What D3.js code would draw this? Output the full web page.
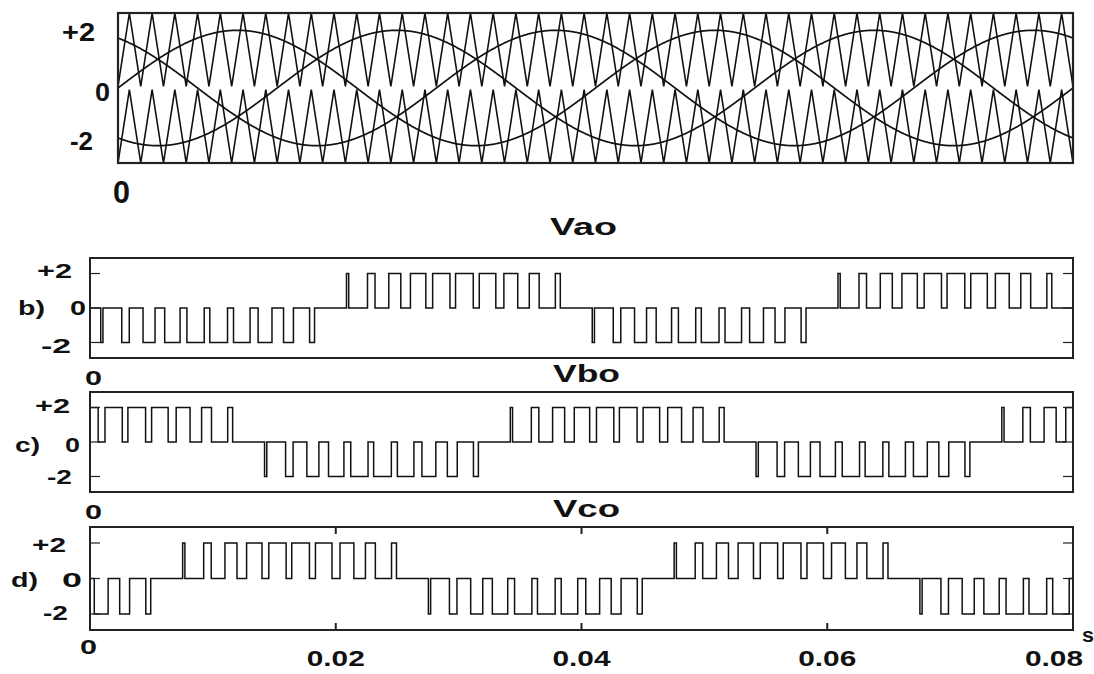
<!DOCTYPE html>
<html><head><meta charset="utf-8">
<script src="https://cdn.jsdelivr.net/npm/d3@7"></script>
<style>
body{margin:0;background:#fff}
svg{display:block}
text{font-family:"Liberation Sans",Arial,sans-serif;font-weight:bold;fill:#111}
</style>
</head><body>
<svg id="chart" width="1094" height="674"></svg>
<script>
// ---------------- data ----------------
const timeSpan = [0, 0.08];                 // seconds
const fundamentalHz = [25];                 // reference frequency
const carrierRatio = [21];                  // carrier / fundamental
const refAmplitude = [2];                   // peak of the sine references
const carrierBands = [[0.06, 2.6], [-2.6, -0.06]]; // level-shifted carriers (in phase)
const topPhasesDeg = [0, 120, -120];        // three references in the top plot
const outputNames = ["Vao", "Vbo", "Vco"];
const outputTags = ["b)", "c)", "d)"];
const outputPhasesDeg = [180, 60, -60];     // reference phase of each output
const outputLevels = [-2, 0, 2];
const yTickValues = [2, 0, -2];
const yTickLabels = ["+2", "0", "-2"];
const xTickValues = [0, 0.02, 0.04, 0.06, 0.08];
const xTickLabels = ["0", "0.02", "0.04", "0.06", "0.08"];

// ---------------- layout ----------------
const svg = d3.select("#chart");
const topBox = {x0: 118, x1: 1073, y0: 13, y1: 163};
const outBoxes = [
  {x0: 90, x1: 1073, y0: 258, y1: 358},
  {x0: 90, x1: 1073, y0: 392, y1: 492},
  {x0: 90, x1: 1073, y0: 527, y1: 630}
];

const omega = 2 * Math.PI * fundamentalHz[0];
const Tc = 1 / (fundamentalHz[0] * carrierRatio[0]);
const deg = Math.PI / 180;

function refValue(t, phDeg) { return refAmplitude[0] * Math.sin(omega * t + phDeg * deg); }
function triUnit(t) { // 0 at t = k*Tc, 1 at (k+0.5)*Tc
  let p = (t / Tc) % 1; if (p < 0) p += 1;
  return p < 0.5 ? 2 * p : 2 - 2 * p;
}
function carrierValue(t, band) { return band[0] + (band[1] - band[0]) * triUnit(t); }

// ---------------- top plot ----------------
const xTop = d3.scaleLinear().domain(timeSpan).range([topBox.x0, topBox.x1]);
const yTop = d3.scaleLinear().domain([-2.6, 2.6]).range([topBox.y1, topBox.y0]);
const gTop = svg.append("g");

const nHalf = Math.round((timeSpan[1] - timeSpan[0]) / (Tc / 2));
carrierBands.forEach(band => {
  const verts = d3.range(nHalf + 1).map(k => ({t: k * Tc / 2, v: k % 2 === 0 ? band[0] : band[1]}));
  gTop.append("path")
    .attr("d", d3.line().x(d => xTop(d.t)).y(d => yTop(d.v))(verts))
    .attr("fill", "none").attr("stroke", "#111").attr("stroke-width", 1.6);
});
const sineT = d3.range(0, 2001).map(i => timeSpan[0] + (timeSpan[1] - timeSpan[0]) * i / 2000);
topPhasesDeg.forEach(ph => {
  gTop.append("path")
    .attr("d", d3.line().x(t => xTop(t)).y(t => yTop(refValue(t, ph)))(sineT))
    .attr("fill", "none").attr("stroke", "#111").attr("stroke-width", 1.7);
});
gTop.append("rect").attr("x", topBox.x0).attr("y", topBox.y0)
  .attr("width", topBox.x1 - topBox.x0).attr("height", topBox.y1 - topBox.y0)
  .attr("fill", "none").attr("stroke", "#222").attr("stroke-width", 2.2);

function label(txt, x, y, size, len, anchor) {
  const t = svg.append("text").attr("x", x).attr("y", y).attr("font-size", size).text(txt);
  if (anchor) t.attr("text-anchor", anchor);
  if (len) t.attr("textLength", len).attr("lengthAdjust", "spacingAndGlyphs");
  return t;
}
// top labels
label(yTickLabels[0], 62, 41, 26, 33);
label(yTickLabels[1], 95, 101, 26, 15);
label(yTickLabels[2], 70, 150, 26, 23);
label(xTickLabels[0], 113, 203, 31, 17);

// ---------------- output plots ----------------
const N = 40000;
const sampT = d3.range(N + 1).map(i => timeSpan[0] + (timeSpan[1] - timeSpan[0]) * i / N);

const nameY = [235, 382, 517];
const nameX = [550, 553, 553];
const zeroBelowY = [385, 519, 654];
const zeroBelowX = [85, 85, 80];
const tagPos = [
  {plus: [37, 278, 35], tag: [18, 315, 27], zero: [70, 315, 16], minus: [41, 353, 30]},
  {plus: [35, 413, 35], tag: [15, 452, 25], zero: [65, 452, 15], minus: [47, 484, 25]},
  {plus: [32, 552, 34], tag: [11, 587, 27], zero: [62, 587, 20], minus: [43, 620, 25]}
];

outBoxes.forEach((box, i) => {
  const x = d3.scaleLinear().domain(timeSpan).range([box.x0, box.x1]);
  const y = d3.scaleLinear().domain([-2.9, 2.9]).range([box.y1, box.y0]);
  const g = svg.append("g");
  const ph = outputPhasesDeg[i];
  const lvl = t => {
    const r = refValue(t, ph);
    if (r > carrierValue(t, carrierBands[0])) return outputLevels[2];
    if (r < carrierValue(t, carrierBands[1])) return outputLevels[0];
    return outputLevels[1];
  };
  const pts = [];
  let prev = null;
  sampT.forEach(t => { const v = lvl(t); if (v !== prev) { pts.push({t, v}); prev = v; } });
  pts.push({t: timeSpan[1], v: prev});
  g.append("path")
    .attr("d", d3.line().curve(d3.curveStepAfter).x(d => x(d.t)).y(d => y(d.v))(pts))
    .attr("fill", "none").attr("stroke", "#111").attr("stroke-width", 1.5);

  // inner y ticks (left and right)
  yTickValues.forEach(v => {
    g.append("line").attr("x1", box.x0).attr("x2", box.x0 + 10).attr("y1", y(v)).attr("y2", y(v))
      .attr("stroke", "#222").attr("stroke-width", 1.2);
    g.append("line").attr("x1", box.x1 - 10).attr("x2", box.x1).attr("y1", y(v)).attr("y2", y(v))
      .attr("stroke", "#222").attr("stroke-width", 1.2);
  });
  if (i === 2) {
    xTickValues.slice(1, -1).forEach(v => {
      g.append("line").attr("x1", x(v)).attr("x2", x(v)).attr("y1", box.y0).attr("y2", box.y0 + 7)
        .attr("stroke", "#222").attr("stroke-width", 2);
      g.append("line").attr("x1", x(v)).attr("x2", x(v)).attr("y1", box.y1 - 7).attr("y2", box.y1)
        .attr("stroke", "#222").attr("stroke-width", 2);
    });
    xTickLabels.forEach((s, k) => {
      if (k === 0) return;
      const last = k === xTickLabels.length - 1;
      label(s, last ? 1083 : x(xTickValues[k]) - 29, 666, 22, 58, last ? "end" : null);
    });
    label("s", 1082, 642, 20, 12);
  }
  g.append("rect").attr("x", box.x0).attr("y", box.y0)
    .attr("width", box.x1 - box.x0).attr("height", box.y1 - box.y0)
    .attr("fill", "none").attr("stroke", "#222").attr("stroke-width", 2);

  // labels
  const p = tagPos[i];
  label(yTickLabels[0], p.plus[0], p.plus[1], 20, p.plus[2]);
  label(outputTags[i], p.tag[0], p.tag[1], 20, p.tag[2]);
  label(yTickLabels[1], p.zero[0], p.zero[1], 20, p.zero[2]);
  label(yTickLabels[2], p.minus[0], p.minus[1], 20, p.minus[2]);
  label(xTickLabels[0], zeroBelowX[i], zeroBelowY[i], 20, 17);
  label(outputNames[i], nameX[i], nameY[i], 23, 67);
});
</script>
</body></html>
